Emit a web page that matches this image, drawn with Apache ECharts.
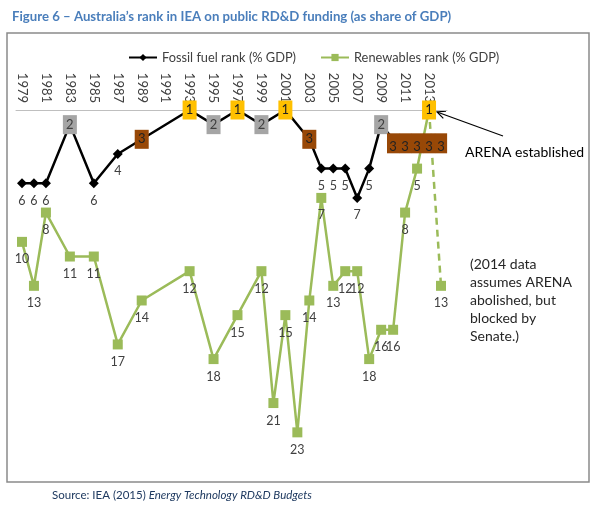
<!DOCTYPE html>
<html><head><meta charset="utf-8">
<script src="https://cdn.jsdelivr.net/npm/echarts@6/dist/echarts.min.js"></script>
<style>html,body{margin:0;padding:0;background:#fff}#c{width:596px;height:508px}</style>
</head><body><div id="c"></div>
<script>
const years = ['1979','1980','1981','1982','1983','1984','1985','1986','1987','1988','1989','1990',
  '1991','1992','1993','1994','1995','1996','1997','1998','1999','2000','2001','2002','2003','2004',
  '2005','2006','2007','2008','2009','2010','2011','2012','2013','2014'];
const fossilRank = [6,6,6,null,2,null,6,null,4,null,3,null,null,null,1,null,2,null,1,null,2,null,1,null,
  3,5,5,5,7,5,2,3,3,3,3,3];
const renewRank = [10,13,8,null,11,null,11,null,17,null,14,null,null,null,12,null,18,null,15,null,12,21,15,23,
  14,7,13,12,12,18,16,16,8,5,1,13];
const seriesNames = ['Fossil fuel rank (% GDP)', 'Renewables rank (% GDP)'];

const FONT = 'Lato, "Open Sans", sans-serif';
const TXT = '#404040';
const GREEN = '#9BBB59';
const boxColors = {1:'#FFC000', 2:'#A5A5A5', 3:'#984807'};

function item(v, i, arr) {
  if (v == null) return '-';
  if (v <= 3) {
    const run = arr[i-1] === v || arr[i+1] === v;
    return {
      value: v, symbol: 'rect',
      symbolSize: run ? [12.2, 20] : [14, 19],
      symbolOffset: run ? [0, 4] : [0, 0],
      itemStyle: {color: boxColors[v]},
      label: {show: true, position: 'inside', offset: run ? [0, 4] : [0, 0],
        color: v === 2 ? '#404040' : '#222', fontSize: 13}
    };
  }
  return {value: v};
}

const fossilData = fossilRank.map(item);
const renewMain = renewRank.map((v, i, a) => i === a.length - 1 ? '-' : item(v, i, a));
const renewDash = renewRank.map((v, i, a) => {
  if (i === a.length - 2) return {value: v, symbol: 'none', label: {show: false}};
  if (i === a.length - 1) return {value: v};
  return '-';
});

const chart = echarts.init(document.getElementById('c'), null, {renderer: 'canvas'});
const lblStyle = {show: true, position: 'bottom', distance: 6, fontSize: 12.5, color: TXT, fontFamily: FONT};

chart.setOption({
  animation: false,
  textStyle: {fontFamily: FONT},
  title: {
    text: 'Figure 6 \u2013 Australia\u2019s rank in IEA on public RD&D funding (as share of GDP)',
    left: 7, top: 5,
    textStyle: {fontSize: 13.2, fontWeight: 'bold', color: '#4A7EBB', fontFamily: FONT}
  },
  legend: {
    data: seriesNames, left: 123, top: 46, itemGap: 24, itemWidth: 28, itemHeight: 9,
    textStyle: {fontSize: 12.8, color: TXT, fontFamily: FONT}
  },
  grid: {left: 16, right: 149, top: 110, bottom: 61},
  xAxis: {
    type: 'category', data: years, position: 'top', boundaryGap: true,
    axisLine: {lineStyle: {color: '#BFBFBF', width: 1}},
    axisTick: {show: false},
    axisLabel: {rotate: 90, interval: 1, margin: 7, fontSize: 13, color: TXT, fontFamily: FONT}
  },
  yAxis: {type: 'value', inverse: true, min: 1, max: 24, show: false},
  series: [
    {
      name: seriesNames[1], type: 'line', data: renewMain, connectNulls: true, z: 2,
      symbol: 'rect', symbolSize: 10, showAllSymbol: true,
      lineStyle: {color: GREEN, width: 2.5}, itemStyle: {color: GREEN},
      label: lblStyle, emphasis: {disabled: true}
    },
    {
      name: '', type: 'line', data: renewDash, connectNulls: true, z: 2,
      symbol: 'rect', symbolSize: 10, showAllSymbol: true,
      lineStyle: {color: GREEN, width: 2.5, type: [7, 5]}, itemStyle: {color: GREEN},
      label: lblStyle, emphasis: {disabled: true}
    },
    {
      name: seriesNames[0], type: 'line', data: fossilData, connectNulls: true, z: 3,
      symbol: 'diamond', symbolSize: 10, showAllSymbol: true,
      lineStyle: {color: '#000', width: 2.5}, itemStyle: {color: '#000'},
      label: lblStyle, emphasis: {disabled: true}
    }
  ]
});

const p = chart.convertToPixel({xAxisIndex: 0, yAxisIndex: 0}, ['2013', 1]);
const end = [p[0] + 8, p[1] + 2];
const start = [503, 136];
const dx = start[0] - end[0], dy = start[1] - end[1];
const len = Math.hypot(dx, dy), ux = dx / len, uy = dy / len;
const ah = 9, ang = 0.45;
const rot = (a) => [end[0] + ah * (ux * Math.cos(a) - uy * Math.sin(a)), end[1] + ah * (ux * Math.sin(a) + uy * Math.cos(a))];

chart.setOption({
  graphic: [
    {type: 'rect', shape: {x: 7, y: 33, width: 582, height: 449}, style: {fill: 'none', stroke: '#8A8A8A', lineWidth: 1.5}, silent: true, z: -1},
    {type: 'line', shape: {x1: start[0], y1: start[1], x2: end[0], y2: end[1]}, style: {stroke: '#000', lineWidth: 1.2}},
    {type: 'polyline', shape: {points: [rot(ang), end, rot(-ang)]}, style: {stroke: '#000', lineWidth: 1.2, fill: 'none'}},
    {type: 'text', x: 465, y: 145, style: {text: 'ARENA established', fontSize: 14, fill: '#000', fontFamily: FONT}},
    {type: 'text', x: 470, y: 255, style: {text: '(2014 data\nassumes ARENA\nabolished, but\nblocked by\nSenate.)', fontSize: 14, lineHeight: 18, fill: '#262626', fontFamily: FONT}},
    {type: 'text', x: 52, y: 489, style: {
      text: '{n|Source: IEA (2015) }{i|Energy Technology RD&D Budgets}',
      rich: {
        n: {fontSize: 11.5, fill: '#1F3A60', fontFamily: FONT},
        i: {fontSize: 11.5, fill: '#1F3A60', fontStyle: 'italic', fontFamily: FONT}
      }
    }}
  ]
});
</script></body></html>
